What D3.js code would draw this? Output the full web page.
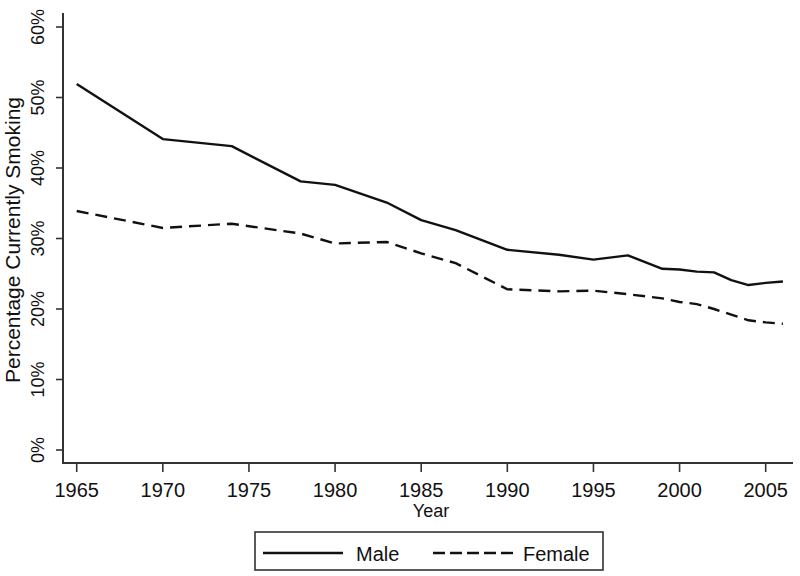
<!DOCTYPE html>
<html><head><meta charset="utf-8">
<script src="https://cdn.jsdelivr.net/npm/d3@7"></script>
<style>body{margin:0;background:#fff}svg{display:block}text{font-family:"Liberation Sans",Arial,sans-serif;fill:#111}</style>
</head><body><svg id="c" width="800" height="576"></svg>
<script>
const years = [1965,1970,1974,1978,1980,1983,1985,1987,1990,1993,1995,1997,1999,2000,2001,2002,2003,2004,2005,2006];
const male = [51.9,44.1,43.1,38.1,37.6,35.1,32.6,31.2,28.4,27.7,27.0,27.6,25.7,25.6,25.3,25.2,24.1,23.4,23.7,23.9];
const female = [33.9,31.5,32.1,30.7,29.3,29.5,27.9,26.5,22.8,22.5,22.6,22.1,21.5,21.0,20.7,20.0,19.2,18.4,18.1,17.9];
const xTicks = [1965,1970,1975,1980,1985,1990,1995,2000,2005];
const yTicks = [0,10,20,30,40,50,60];
const seriesNames = ["Male","Female"];
const yTitle = "Percentage Currently Smoking";
const xTitle = "Year";

const svg = d3.select("#c");
const x = d3.scaleLinear().domain([1965,2005]).range([76.7,765.7]);
const y = d3.scaleLinear().domain([0,60]).range([450,27]);
const axX0 = 63, axY0 = 463, axTop = 13, axRight = 793;

svg.append("line").attr("x1",axX0).attr("x2",axX0).attr("y1",axTop).attr("y2",axY0+1)
  .attr("stroke","#333").attr("stroke-width",2);
svg.append("line").attr("x1",axX0-1).attr("x2",axRight).attr("y1",axY0).attr("y2",axY0)
  .attr("stroke","#333").attr("stroke-width",2);

const gx = svg.append("g");
gx.selectAll("line").data(xTicks).join("line")
  .attr("x1",d=>x(d)).attr("x2",d=>x(d)).attr("y1",axY0).attr("y2",axY0+9)
  .attr("stroke","#333").attr("stroke-width",1.6);
gx.selectAll("text").data(xTicks).join("text")
  .attr("x",d=>x(d)).attr("y",497).attr("text-anchor","middle")
  .attr("font-size",20).text(d=>d);

const gy = svg.append("g");
gy.selectAll("line").data(yTicks).join("line")
  .attr("x1",axX0-7).attr("x2",axX0).attr("y1",d=>y(d)).attr("y2",d=>y(d))
  .attr("stroke","#333").attr("stroke-width",1.6);
gy.selectAll("text").data(yTicks).join("text")
  .attr("transform",d=>`translate(44,${y(d)}) rotate(-90)`)
  .attr("text-anchor","middle").attr("font-size",18).text(d=>d+"%");

svg.append("text").attr("transform","translate(20,240) rotate(-90)")
  .attr("text-anchor","middle").attr("font-size",21).text(yTitle);
svg.append("text").attr("x",431).attr("y",517).attr("text-anchor","middle")
  .attr("font-size",18).text(xTitle);

const line = d3.line().x((d,i)=>x(years[i])).y(d=>y(d));
svg.append("path").datum(male).attr("d",line).attr("fill","none")
  .attr("stroke","#111").attr("stroke-width",2.4).attr("stroke-linejoin","round");
svg.append("path").datum(female).attr("d",line).attr("fill","none")
  .attr("stroke","#111").attr("stroke-width",2.4).attr("stroke-dasharray","12,7");

const lg = svg.append("g");
lg.append("rect").attr("x",255).attr("y",532).attr("width",348).attr("height",38)
  .attr("fill","#fff").attr("stroke","#333").attr("stroke-width",1.6);
lg.append("line").attr("x1",263).attr("x2",343).attr("y1",553).attr("y2",553)
  .attr("stroke","#111").attr("stroke-width",2.4);
lg.append("text").attr("x",356).attr("y",561).attr("font-size",20).text(seriesNames[0]);
lg.append("line").attr("x1",433).attr("x2",513).attr("y1",553).attr("y2",553)
  .attr("stroke","#111").attr("stroke-width",2.4).attr("stroke-dasharray","12,5");
lg.append("text").attr("x",523).attr("y",561).attr("font-size",20).text(seriesNames[1]);
</script></body></html>
